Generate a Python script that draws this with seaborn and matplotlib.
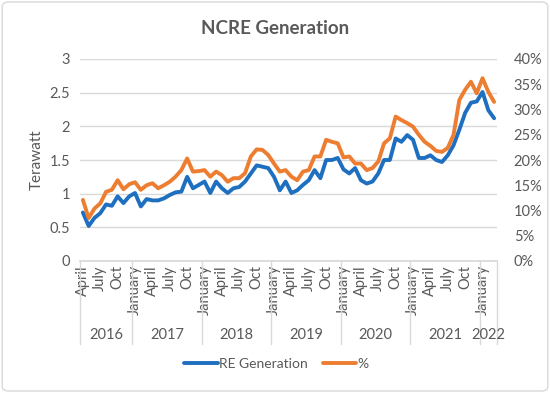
import matplotlib
matplotlib.use("Agg")
import matplotlib.pyplot as plt
import matplotlib.transforms as mtransforms
from matplotlib.patches import FancyBboxPatch
from matplotlib.lines import Line2D
import seaborn as sns
import pandas as pd
import numpy as np

# ---------------- data ----------------
year_labels = ["2016", "2017", "2018", "2019", "2020", "2021", "2022"]
months_per_year = [9, 12, 12, 12, 12, 12, 3]
month_tick_labels = ["April", "July", "Oct"] + ["January", "April", "July", "Oct"] * 5 + ["January"]

re_generation = [
    0.72, 0.52, 0.64, 0.71, 0.84, 0.82, 0.96, 0.86, 0.96,                     # 2016 Apr-Dec
    1.01, 0.81, 0.92, 0.90, 0.90, 0.93, 0.98, 1.02, 1.03, 1.25, 1.08, 1.13,   # 2017
    1.18, 1.01, 1.18, 1.08, 1.01, 1.08, 1.10, 1.18, 1.30, 1.42, 1.40, 1.38,   # 2018
    1.25, 1.05, 1.18, 1.01, 1.05, 1.13, 1.20, 1.35, 1.23, 1.50, 1.50, 1.53,   # 2019
    1.36, 1.30, 1.38, 1.20, 1.15, 1.18, 1.30, 1.50, 1.50, 1.82, 1.77, 1.87,   # 2020
    1.80, 1.53, 1.53, 1.57, 1.50, 1.47, 1.57, 1.72, 1.95, 2.20, 2.35, 2.37,   # 2021
    2.51, 2.24, 2.12,                                                         # 2022 Jan-Mar
]
re_share_pct = [
    12.1, 8.5, 10.4, 11.4, 13.7, 14.1, 16.0, 14.2, 15.2,
    15.6, 14.1, 15.0, 15.4, 14.4, 15.0, 15.7, 16.7, 18.0, 20.3, 17.7, 17.8,
    18.0, 16.7, 17.7, 17.0, 15.7, 16.4, 16.4, 17.4, 20.7, 22.1, 22.0, 21.0,
    19.3, 17.7, 18.0, 16.7, 16.0, 17.7, 18.0, 20.7, 20.7, 24.0, 23.6, 23.3,
    20.5, 20.7, 19.3, 19.3, 18.0, 18.4, 19.7, 23.3, 24.3, 28.6, 27.9, 27.3,
    26.6, 25.0, 23.6, 22.8, 21.8, 21.6, 22.4, 25.0, 31.9, 33.9, 35.5, 33.2,
    36.2, 33.5, 31.5,
]
left_ticks = [0, 0.5, 1, 1.5, 2, 2.5, 3]
left_tick_labels = ["0", "0.5", "1", "1.5", "2", "2.5", "3"]
right_ticks = [0, 5, 10, 15, 20, 25, 30, 35, 40]
right_tick_labels = ["0%", "5%", "10%", "15%", "20%", "25%", "30%", "35%", "40%"]

# ---------------- style ----------------
sns.set_theme(style="white")
plt.rcParams["font.family"] = ["Lato", "DejaVu Sans"]
TXT = "#595959"
GRID = "#d9d9d9"
BLUE = "#1f6fc0"
ORANGE = "#ed7d31"

n = len(re_generation)
df = pd.DataFrame({"idx": np.arange(n), "re": re_generation, "pct": re_share_pct})

fig = plt.figure(figsize=(5.5, 3.93), dpi=100)
ax = fig.add_axes([80 / 550, 1 - 261 / 393, (497 - 80) / 550, (261 - 59) / 393])
ax2 = ax.twinx()

sns.lineplot(data=df, x="idx", y="re", ax=ax, color=BLUE, lw=2.8, legend=False)
sns.lineplot(data=df, x="idx", y="pct", ax=ax2, color=ORANGE, lw=2.8, legend=False)

ax.set_xlim(-0.5, n - 0.5)
ax.set_ylim(0, 3)
ax2.set_ylim(0, 40)
ax.set_yticks(left_ticks)
ax.set_yticklabels(left_tick_labels)
ax2.set_yticks(right_ticks)
ax2.set_yticklabels(right_tick_labels)
ax.grid(axis="y", color=GRID, lw=1)
ax.set_axisbelow(True)
ax2.grid(False)

for a in (ax, ax2):
    for s in ["top", "left", "right"]:
        a.spines[s].set_visible(False)
    a.spines["bottom"].set_color(GRID)
    a.tick_params(length=0, colors=TXT, labelsize=10.5)
    a.set_xlabel("")
    a.set_ylabel("")
ax2.spines["bottom"].set_visible(False)
ax.tick_params(axis="y", pad=7)
ax2.tick_params(axis="y", pad=12)

ax.set_ylabel("Terawatt", color=TXT, fontsize=11, labelpad=4)

# month tick labels every 3rd month
ax.set_xticks(np.arange(0, n, 3))
ax.set_xticklabels(month_tick_labels, rotation=90, va="top", ha="center")
ax.tick_params(axis="x", pad=3, labelsize=10.5)

# year groups: dividers and labels
trans = mtransforms.blended_transform_factory(ax.transData, ax.transAxes)
bounds = np.concatenate([[0], np.cumsum(months_per_year)]) - 0.5
for b in bounds:
    ax.add_line(Line2D([b, b], [0, -0.41], transform=trans, color=GRID, lw=1, clip_on=False))
for i, yl in enumerate(year_labels):
    ax.text((bounds[i] + bounds[i + 1]) / 2, -0.365, yl, transform=trans,
            ha="center", va="center", color=TXT, fontsize=10.5)

# legend
handles = [Line2D([], [], color=BLUE, lw=2.8), Line2D([], [], color=ORANGE, lw=2.8)]
fig.legend(handles, ["RE Generation", "%"], loc="center", bbox_to_anchor=(0.503, 1 - 364 / 393),
           ncol=2, frameon=False, fontsize=10, labelcolor=TXT, handlelength=2.4,
           handletextpad=0.1, columnspacing=1.1)

fig.text(0.5, 1 - 29 / 393, "NCRE Generation", ha="center", va="center",
         fontsize=13.5, fontweight="bold", color=TXT)

border = FancyBboxPatch((0.004, 0.005), 0.992, 0.99, boxstyle="round,pad=0,rounding_size=0.012",
                        transform=fig.transFigure, fill=False, edgecolor=GRID, lw=1)
fig.patches.append(border)

fig.savefig("out.png", dpi=100)
